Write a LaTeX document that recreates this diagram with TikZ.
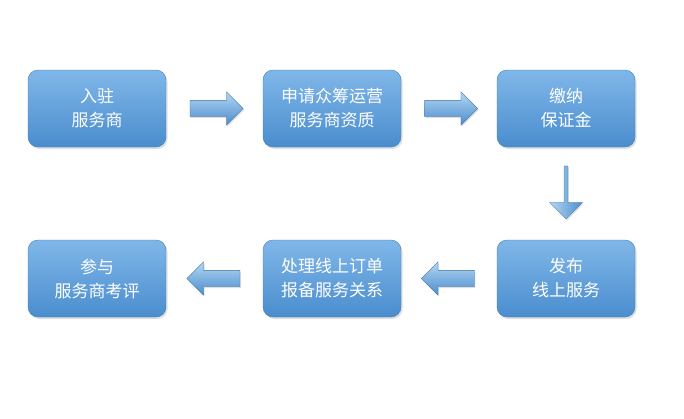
\documentclass[tikz,border=0pt]{standalone}
\usepackage{fontspec}
\setmainfont{Noto Sans CJK SC}
\usetikzlibrary{shapes.arrows,shadows,calc}
\definecolor{boxtop}{HTML}{80B7E9}
\definecolor{boxbot}{HTML}{4A8DCE}
\definecolor{arrtop}{HTML}{B3D6F3}
\definecolor{arrbot}{HTML}{4C8DCD}
\tikzset{
  stepbox/.style={rectangle, rounded corners=10pt, minimum width=138pt, minimum height=77pt,
    top color=boxtop, bottom color=boxbot, draw=boxbot!90!black, line width=0.4pt,
    text=white, font=\fontsize{17}{24}\selectfont, align=center,
    drop shadow={shadow xshift=1.5pt, shadow yshift=-2pt, opacity=0.25}},
  flowarrow/.style={single arrow, minimum height=53pt, minimum width=33pt,
    single arrow head extend=8.5pt, single arrow head indent=0pt,
    inner xsep=1pt, inner ysep=8pt,
    top color=arrtop, bottom color=arrbot, draw=arrbot!80!black, line width=0.3pt,
    drop shadow={shadow xshift=1pt, shadow yshift=-1.5pt, opacity=0.25}}
}
\begin{document}
\begin{tikzpicture}[x=1pt,y=-1pt]
\useasboundingbox[fill=white] (0,0) rectangle (684,418);
\node[stepbox] (b1) at (97,108.5) {入驻\\服务商};
\node[stepbox] (b2) at (332,108.5) {申请众筹运营\\服务商资质};
\node[stepbox] (b3) at (566,108.5) {缴纳\\保证金};
\node[stepbox] (b6) at (566,278.5) {发布\\线上服务};
\node[stepbox] (b5) at (332,278.5) {处理线上订单\\报备服务关系};
\node[stepbox] (b4) at (97,278.5) {参与\\服务商考评};
\node[flowarrow] (a1) at ($(b1.east)!0.5!(b2.west)+(-2,0)$) {};
\node[flowarrow] (a2) at ($(b2.east)!0.5!(b3.west)+(-2,0)$) {};
\node[flowarrow, shape border rotate=270, left color=arrtop, right color=arrbot] (a3) at ($(b3.south)!0.5!(b6.north)+(0,-2)$) {};
\node[flowarrow, shape border rotate=180] (a4) at ($(b6.west)!0.5!(b5.east)+(3,0)$) {};
\node[flowarrow, shape border rotate=180] (a5) at ($(b5.west)!0.5!(b4.east)+(3,0)$) {};
\end{tikzpicture}
\end{document}
